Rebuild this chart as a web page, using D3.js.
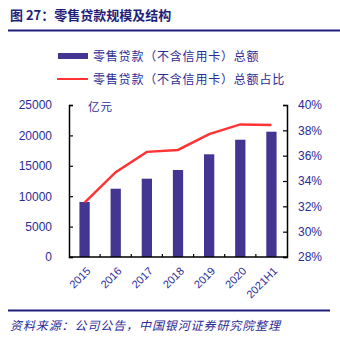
<!DOCTYPE html>
<html><head><meta charset="utf-8">
<script src="https://cdn.jsdelivr.net/npm/d3@7"></script>
<style>body{margin:0;background:#fff}svg{display:block}</style>
</head><body>
<svg id="c" width="340" height="339"></svg>
<script>
const categories = ["2015","2016","2017","2018","2019","2020","2021H1"];
const loanTotal = [9050, 11230, 12880, 14310, 16890, 19290, 20610];
const loanShare = [32.3, 34.7, 36.3, 36.45, 37.7, 38.47, 38.42];
const leftTicks = [0,5000,10000,15000,20000,25000];
const rightTicks = [28,30,32,34,36,38,40];
const seriesNames = ["零售贷款（不含信用卡）总额","零售贷款（不含信用卡）总额占比"];

const svg = d3.select("#c");
const navy = "#1f1f7a", txt = "#2b2b96", barC = "#433592", red = "#ff3333";
const cjk = "'Noto Sans CJK SC', sans-serif";

// title
svg.append("text").attr("x",10).attr("y",20).attr("fill",navy)
  .attr("font-family",cjk).attr("font-weight","bold").attr("font-size",13)
  .text("图 27：零售贷款规模及结构");
svg.append("line").attr("x1",8).attr("x2",340).attr("y1",30.5).attr("y2",30.5)
  .attr("stroke",navy).attr("stroke-width",2);

const L = 69, R = 287, T = 105, B = 257;
const x = d3.scaleBand().domain(categories).range([L,R]).paddingInner(0.67).paddingOuter(0.335);
const yL = d3.scaleLinear().domain([0,25000]).range([B,T]);
const yR = d3.scaleLinear().domain([28,40]).range([B,T]);

// bars
svg.append("g").selectAll("rect").data(categories).join("rect")
  .attr("x",d=>x(d)).attr("width",x.bandwidth())
  .attr("y",(d,i)=>yL(loanTotal[i])).attr("height",(d,i)=>B-yL(loanTotal[i]))
  .attr("fill",barC);

// line
const line = d3.line().x((d,i)=>x(categories[i])+x.bandwidth()/2).y(d=>yR(d));
svg.append("path").datum(loanShare).attr("d",line).attr("fill","none")
  .attr("stroke",red).attr("stroke-width",2.5);

// axes
const axL = svg.append("g").attr("transform",`translate(${L},0)`)
  .call(d3.axisLeft(yL).tickValues(leftTicks).tickSize(-4).tickPadding(17).tickFormat(d3.format("d")));
const axR = svg.append("g").attr("transform",`translate(${R},0)`)
  .call(d3.axisRight(yR).tickValues(rightTicks).tickSize(-4).tickPadding(11).tickFormat(d=>d+"%"));
const bounds = [L, ...categories.slice(1).map(c=>x(c)-x.step()*x.paddingInner()/2), R];
const axB = svg.append("g").attr("transform",`translate(0,${B})`)
  .call(d3.axisBottom(x).tickSize(0).tickPadding(8));
axB.select(".domain").remove();
svg.append("line").attr("x1",L).attr("x2",R).attr("y1",B).attr("y2",B).attr("stroke","#000").attr("stroke-width",1.5);
svg.append("g").selectAll("line").data(bounds.slice(1,-1)).join("line")
  .attr("x1",d=>d).attr("x2",d=>d).attr("y1",B).attr("y2",B-3).attr("stroke","#000").attr("stroke-width",1.2);
[axL,axR].forEach(a=>{
  a.select(".domain").attr("stroke","#000").attr("stroke-width",1.5);
  a.selectAll(".tick line").attr("stroke","#000").attr("stroke-width",1.2);
});
[axL,axR,axB].forEach(a=>a.selectAll("text").attr("fill",txt)
  .attr("font-family","'Liberation Sans', Arial, sans-serif").attr("font-size",12));
axB.selectAll(".tick text").attr("font-size",11).attr("text-anchor","end")
  .attr("x",0).attr("y",0).attr("dy","0.35em")
  .attr("transform","translate(4,12) rotate(-45)");

// unit label
svg.append("text").attr("x",88).attr("y",111).attr("fill",txt)
  .attr("font-family",cjk).attr("font-size",11.5).attr("letter-spacing",1).text("亿元");

// legend
svg.append("rect").attr("x",58).attr("y",53).attr("width",30).attr("height",6).attr("fill",barC);
svg.append("line").attr("x1",57).attr("x2",88).attr("y1",79).attr("y2",79).attr("stroke",red).attr("stroke-width",2);
svg.append("text").attr("x",93).attr("y",61).attr("fill",txt).attr("font-family",cjk).attr("font-size",12).attr("letter-spacing",0.8).text(seriesNames[0]);
svg.append("text").attr("x",93).attr("y",84).attr("fill",txt).attr("font-family",cjk).attr("font-size",12).attr("letter-spacing",0.8).text(seriesNames[1]);

// footer
svg.append("line").attr("x1",8).attr("x2",330).attr("y1",310.5).attr("y2",310.5)
  .attr("stroke",navy).attr("stroke-width",2);
svg.append("text").attr("x",10).attr("y",330).attr("fill",txt).attr("font-family",cjk)
  .attr("font-style","italic").attr("font-size",12).attr("letter-spacing",0.9).text("资料来源：公司公告，中国银河证券研究院整理");
</script>
</body></html>
